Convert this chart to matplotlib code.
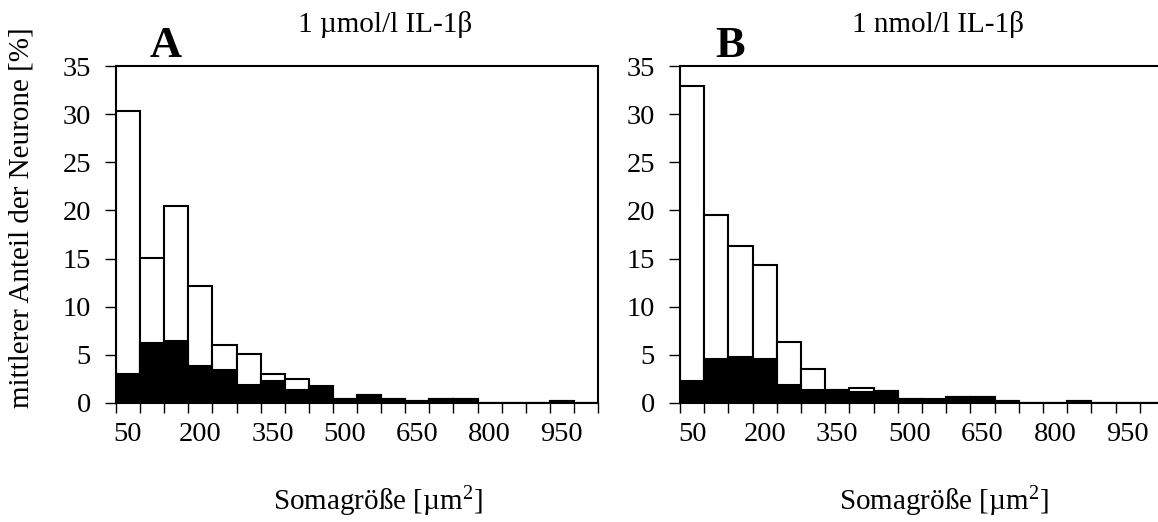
import matplotlib
matplotlib.use("Agg")
import matplotlib.pyplot as plt
import numpy as np

# bin centres of soma size [um^2], 50 um^2 wide
bins = [50, 100, 150, 200, 250, 300, 350, 400, 450, 500,
        550, 600, 650, 700, 750, 800, 850, 900, 950, 1000]
tick_labels = [50, 200, 350, 500, 650, 800, 950]

# panel A: 1 umol/l IL-1beta (all neurons / subgroup in black)
a_total = [30.3, 15.1, 20.5, 12.1, 6.0, 5.1, 3.0, 2.5, 1.75, 0.4,
           0.8, 0.4, 0.25, 0.45, 0.45, 0, 0, 0, 0.25, 0]
a_black = [3.05, 6.2, 6.45, 3.85, 3.45, 1.85, 2.25, 1.3, 1.55, 0.4,
           0.8, 0.4, 0.25, 0.45, 0.45, 0, 0, 0, 0.25, 0]

# panel B: 1 nmol/l IL-1beta
b_total = [32.9, 19.5, 16.3, 14.3, 6.35, 3.5, 1.4, 1.55, 1.2, 0.4,
           0.45, 0.6, 0.6, 0.2, 0, 0, 0.2, 0, 0, 0]
b_black = [2.25, 4.6, 4.8, 4.6, 1.85, 1.4, 1.4, 1.15, 1.2, 0.4,
           0.2, 0.6, 0.6, 0.2, 0, 0, 0.2, 0, 0, 0]

plt.rcParams['font.family'] = ['Liberation Serif', 'DejaVu Serif']
plt.rcParams['mathtext.fontset'] = 'custom'
plt.rcParams['mathtext.rm'] = 'Liberation Serif'
plt.rcParams['mathtext.it'] = 'Liberation Serif:italic'

W, H = 1158, 522
fig = plt.figure(figsize=(W / 100, H / 100), dpi=100)


def px(x0, y0, x1, y1):
    return [x0 / W, 1 - y1 / H, (x1 - x0) / W, (y1 - y0) / H]


def panel(rect, total, black):
    ax = fig.add_axes(rect)
    ax.bar(bins, total, width=50, color='white', edgecolor='black', linewidth=1.5, zorder=2)
    ax.bar(bins, black, width=50, color='black', edgecolor='black', linewidth=1.5, zorder=3)
    ax.set_xlim(25, 1025)
    ax.set_ylim(0, 35)
    ax.set_yticks(np.arange(0, 36, 5))
    ax.set_xticks(tick_labels)
    ax.set_xticks(np.arange(25, 1026, 50), minor=True)
    ax.tick_params(axis='x', which='major', length=0, pad=14, labelsize=20.5)
    ax.tick_params(axis='x', which='minor', length=7, width=1, direction='out')
    ax.tick_params(axis='y', length=8, width=1, pad=10, labelsize=20.5, direction='out')
    for s in ax.spines.values():
        s.set_linewidth(1.5)
    return ax


axA = panel(px(116, 66, 598, 403), a_total, a_black)
axB = panel(px(680, 66, 1164, 403), b_total, b_black)

fig.text(166 / W, 1 - 57 / H, 'A', ha='center', va='baseline', fontsize=32, fontweight='bold')
fig.text(730 / W, 1 - 57 / H, 'B', ha='center', va='baseline', fontsize=32, fontweight='bold')
fig.text(385 / W, 1 - 32 / H, '1 µmol/l IL-1β', ha='center', va='baseline', fontsize=21)
fig.text(938 / W, 1 - 32 / H, '1 nmol/l IL-1β', ha='center', va='baseline', fontsize=21)
fig.text(378 / W, 1 - 510 / H, 'Somagröße [µm$^2$]', ha='center', va='baseline', fontsize=21)
fig.text(944 / W, 1 - 510 / H, 'Somagröße [µm$^2$]', ha='center', va='baseline', fontsize=21)
fig.text(22 / W, 1 - 218 / H, 'mittlerer Anteil der Neurone [%]', ha='center', va='center',
         rotation=90, fontsize=21)

fig.savefig('out.png', dpi=100)
